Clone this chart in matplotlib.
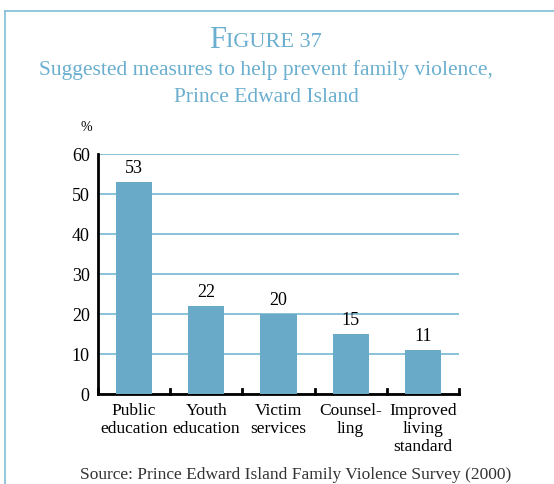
import numpy as np
import matplotlib.pyplot as plt

categories = ["Public\neducation", "Youth\neducation", "Victim\nservices",
              "Counsel-\nling", "Improved\nliving\nstandard"]
values = [53, 22, 20, 15, 11]
yticks = [0, 10, 20, 30, 40, 50, 60]

bar_color = "#6aaac9"
grid_color = "#7fbdd6"
title_color = "#6aafcf"
serif = ["Liberation Serif", "DejaVu Serif"]

fig = plt.figure(figsize=(5.54, 4.85), dpi=100)

# light blue frame (top + left only, rest is cropped)
fig.add_artist(plt.Line2D([5 / 554, 1], [1 - 12 / 485] * 2, color=grid_color, lw=1.2))
fig.add_artist(plt.Line2D([5 / 554] * 2, [0, 1 - 12 / 485], color=grid_color, lw=1.2))

ax = fig.add_axes([98 / 554, 1 - 395 / 485, 361 / 554, 240 / 485])
x = np.arange(len(values))
ax.bar(x, values, width=0.5, color=bar_color, zorder=3)
ax.set_xlim(-0.5, len(values) - 0.5)
ax.set_ylim(0, 60)
ax.set_yticks(yticks)
ax.set_yticklabels([str(t) for t in yticks], fontfamily=serif, fontsize=13)
ax.yaxis.grid(True, color=grid_color, lw=1.3, zorder=0)
ax.tick_params(axis="y", length=0, pad=6)

ax.set_xticks(x)
ax.set_xticklabels(categories, fontfamily=serif, fontsize=12.5, linespacing=1.15)
ax.tick_params(axis="x", length=0, pad=6)
for b in np.arange(len(values) + 1) - 0.5:
    ax.plot([b, b], [0, 1.2], color="black", lw=2, zorder=4, clip_on=False)

for s in ["top", "right"]:
    ax.spines[s].set_visible(False)
ax.spines["left"].set_linewidth(2)
ax.spines["bottom"].set_linewidth(2)

for xi, v in zip(x, values):
    ax.text(xi, v + 1.5, str(v), ha="center", va="bottom", fontfamily=serif, fontsize=13)

fig.text(86 / 554, 1 - 128 / 485, "%", ha="center", va="center", fontfamily=serif, fontsize=10)

# title with small caps look
fig.text(226 / 554, 1 - 41 / 485, "F", ha="right", va="center", fontfamily=serif,
         fontsize=22, color=title_color)
fig.text(226 / 554, 1 - 42.5 / 485, "IGURE 37", ha="left", va="center", fontfamily=serif,
         fontsize=16, color=title_color)
fig.text(266 / 554, 1 - 70 / 485, "Suggested measures to help prevent family violence,",
         ha="center", va="center", fontfamily=serif, fontsize=15.5, color=title_color)
fig.text(266 / 554, 1 - 98 / 485, "Prince Edward Island",
         ha="center", va="center", fontfamily=serif, fontsize=15.5, color=title_color)

fig.text(80 / 554, 1 - 475 / 485, "Source: Prince Edward Island Family Violence Survey (2000)",
         ha="left", va="center", fontfamily=serif, fontsize=12.5, color="#333333")

fig.savefig("out.png", dpi=100)
